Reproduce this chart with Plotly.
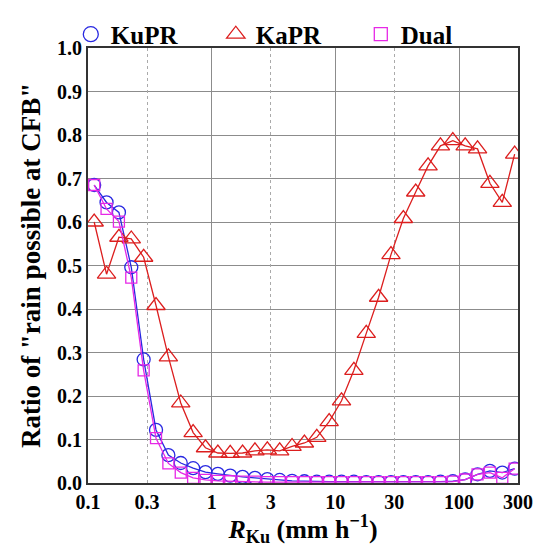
import numpy as np
import plotly.graph_objects as go

# bin centres in log10(R) (mm/h)
log_r = [-0.95 + 0.1 * k for k in range(35)]
r_ku = [10 ** v for v in log_r]

kupr = [0.685, 0.645, 0.622, 0.496, 0.284, 0.122, 0.064, 0.046, 0.034, 0.025,
        0.021, 0.017, 0.014, 0.012, 0.009, 0.007, 0.005, 0.004, 0.003, 0.003,
        0.003, 0.003, 0.002, 0.002, 0.002, 0.002, 0.002, 0.002, 0.003, 0.004,
        0.008, 0.020, 0.028, 0.024, 0.033]
kapr = [0.600, 0.480, 0.565, 0.561, 0.519, 0.408, 0.290, 0.184, 0.116, 0.081,
        0.069, 0.068, 0.069, 0.074, 0.076, 0.074, 0.084, 0.092, 0.105, 0.141,
        0.189, 0.259, 0.344, 0.427, 0.525, 0.608, 0.669, 0.729, 0.775, 0.787,
        0.775, 0.768, 0.689, 0.645, 0.756]
dual = [0.685, 0.630, 0.601, 0.472, 0.259, 0.103, 0.045, 0.024, 0.012, 0.007,
        0.005, 0.004, 0.003, 0.003, 0.002, 0.002, 0.002, 0.002, 0.002, 0.002,
        0.002, 0.002, 0.002, 0.002, 0.002, 0.002, 0.002, 0.002, 0.002, 0.003,
        0.008, 0.020, 0.024, 0.012, 0.033]

series_names = ["KuPR", "KaPR", "Dual"]
x_tickvals = [0.1, 0.3, 1, 3, 10, 30, 100, 300]
x_ticktext = ["0.1", "0.3", "1", "3", "10", "30", "100", "300"]
solid_grid = [1, 10, 100]
dotted_grid = [0.3, 3, 30]
y_tickvals = [round(0.1 * i, 1) for i in range(11)]

BLUE = "rgb(40,40,225)"
RED = "rgb(220,30,30)"
MAG = "rgb(230,40,230)"
FONT = "Liberation Serif"

def b(s):
    return f"<b>{s}</b>"

styles = [
    (kupr, BLUE, "circle-open", 13),
    (kapr, RED, "triangle-up-open", 16),
    (dual, MAG, "square-open", 11),
]

fig = go.Figure()
for name, (vals, col, sym, sz) in zip(series_names, styles):
    fig.add_trace(go.Scatter(x=r_ku, y=vals, name=b(name), mode="lines+markers",
                             showlegend=False, legendgroup=name,
                             line=dict(color=col, width=1.3),
                             marker=dict(symbol=sym, size=sz, color=col,
                                         line=dict(color=col, width=1.3))))
# legend entries (marker only)
for name, (vals, col, sym, sz) in zip(series_names, styles):
    fig.add_trace(go.Scatter(x=[None], y=[None], name=b(name), mode="markers",
                             legendgroup=name,
                             marker=dict(symbol=sym, size=sz + 2, color=col,
                                         line=dict(color=col, width=1.3))))
# invisible trace hosting the dotted-grid axis
fig.add_trace(go.Scatter(x=[x_tickvals[0]], y=[None], xaxis="x2",
                         showlegend=False, hoverinfo="skip", mode="lines"))

fig.update_layout(
    width=545, height=547,
    margin=dict(l=88, r=19, t=47, b=64),
    paper_bgcolor="white", plot_bgcolor="white",
    font=dict(family=FONT, size=20, color="black"),
    showlegend=True,
    legend=dict(orientation="h", x=-0.04, xanchor="left",
                y=1.084, yanchor="top",
                font=dict(family=FONT, size=25, color="black"),
                itemwidth=30, entrywidth=100, bgcolor="rgba(0,0,0,0)",
                itemclick=False, itemsizing="trace"),
    xaxis=dict(type="log", range=[np.log10(0.1), np.log10(300)],
               tickvals=x_tickvals, ticktext=[b(t) for t in x_ticktext],
               showgrid=False, ticks="",
               tickfont=dict(size=20, family=FONT),
               showline=True, linecolor="#333", linewidth=2, mirror=True,
               minor=dict(tickvals=solid_grid, showgrid=True,
                          gridcolor="rgb(140,140,140)", gridwidth=1, ticks=""),
               title=dict(text="<b><i>R</i><sub>Ku</sub> (mm h<sup>−1</sup>)</b>",
                          font=dict(size=26, family=FONT),
                          standoff=2),
               zeroline=False),
    xaxis2=dict(type="log", range=[np.log10(0.1), np.log10(300)],
                overlaying="x", anchor="y", tickvals=dotted_grid,
                showticklabels=False, ticks="", showgrid=True,
                gridcolor="rgb(170,170,170)", griddash="dot", gridwidth=1,
                showline=False, zeroline=False),
    yaxis=dict(range=[0, 1.0], tickvals=y_tickvals,
               ticktext=[b(f"{v:.1f}") for v in y_tickvals],
               showgrid=True, gridcolor="rgb(140,140,140)", gridwidth=1,
               ticks="", tickfont=dict(size=20, family=FONT),
               showline=True, linecolor="#333", linewidth=2, mirror=True,
               zeroline=False,
               title=dict(text=b('Ratio of "rain possible at CFB"'),
                          font=dict(size=27, family=FONT),
                          standoff=9)),
)

fig.write_html("out.html")
